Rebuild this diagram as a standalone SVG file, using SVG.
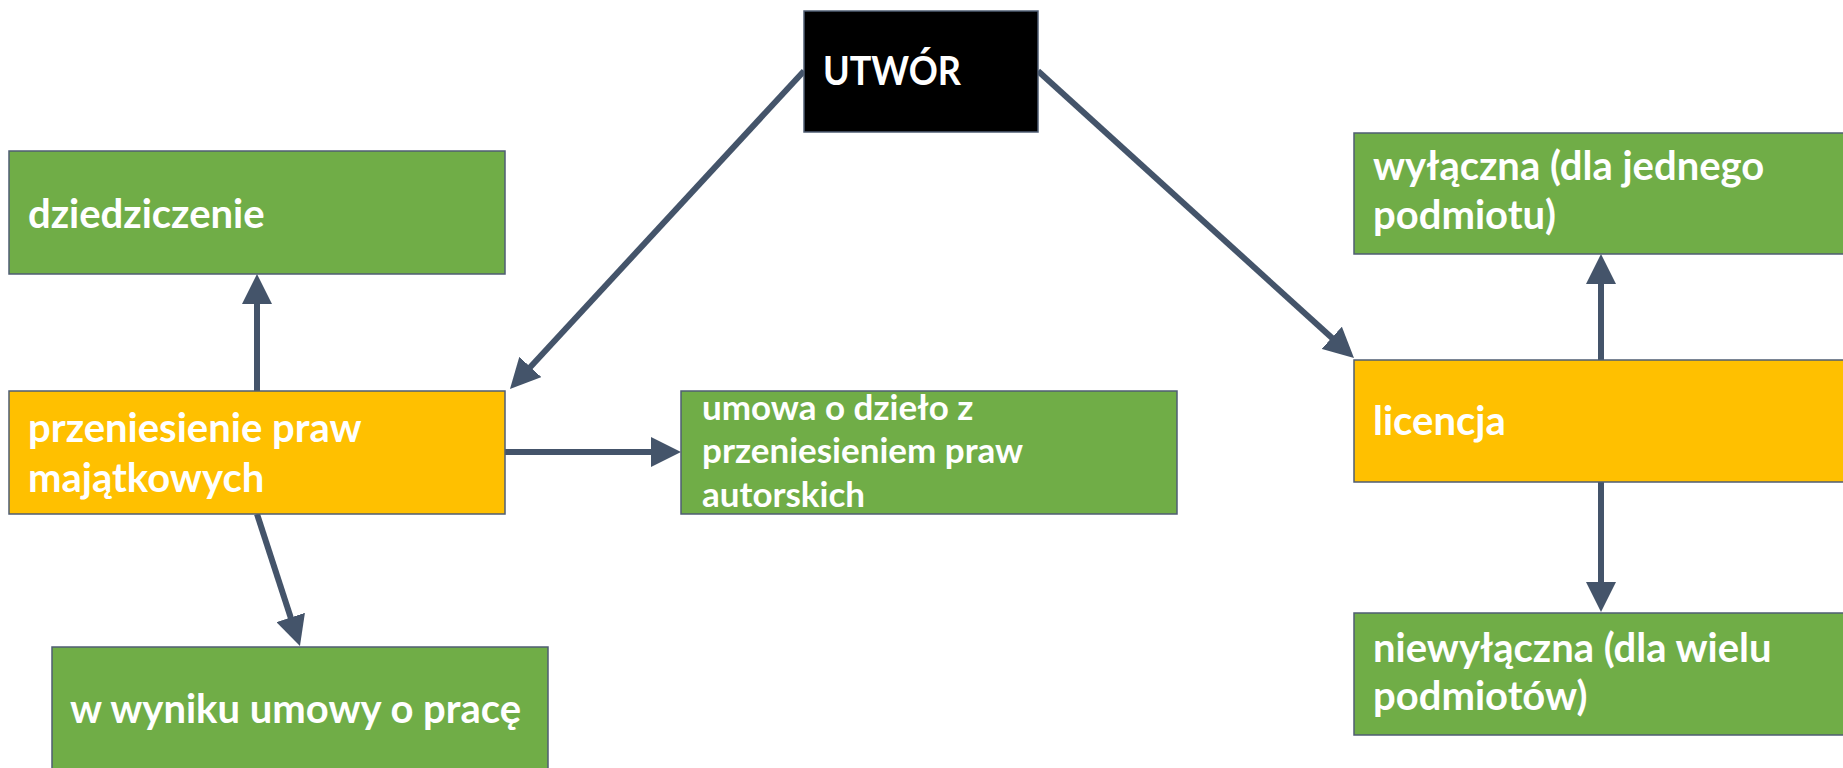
<svg xmlns="http://www.w3.org/2000/svg" width="1843" height="768" viewBox="0 0 1843 768">
<style>
.box{stroke:#4F5D73;stroke-width:1.5}
.g{fill:#70AD47}
.y{fill:#FFC000}
.k{fill:#000000}
.t{font-family:Lato,"Liberation Sans",sans-serif;font-weight:bold;font-size:40px;fill:#FFFFFF}
.s{font-size:35px}
.c{fill:none;stroke:#44546A;stroke-width:6}
</style>
<defs>
<marker id="ah" viewBox="0 0 10 10" refX="1" refY="5" markerWidth="5" markerHeight="5" orient="auto" markerUnits="strokeWidth">
<path d="M0,0 L10,5 L0,10 z" fill="#44546A"/>
</marker>
</defs>
<rect width="1843" height="768" fill="#FFFFFF"/>
<g id="connectors">
<line class="c" x1="804" y1="71" x2="528.3" y2="369.2" marker-end="url(#ah)"/>
<line class="c" x1="1038" y1="71" x2="1334" y2="339.8" marker-end="url(#ah)"/>
<line class="c" x1="257" y1="391" x2="257" y2="301" marker-end="url(#ah)"/>
<line class="c" x1="505" y1="452" x2="654" y2="452" marker-end="url(#ah)"/>
<line class="c" x1="257" y1="514" x2="291.6" y2="620.3" marker-end="url(#ah)"/>
<line class="c" x1="1601" y1="360" x2="1601" y2="281" marker-end="url(#ah)"/>
<line class="c" x1="1601" y1="482" x2="1601" y2="585" marker-end="url(#ah)"/>
</g>
<g id="utwor">
<rect class="box k" x="804" y="11" width="234" height="121"/>
<text class="t" x="823" y="85" textLength="138" lengthAdjust="spacingAndGlyphs">UTWÓR</text>
</g>
<g id="dziedziczenie">
<rect class="box g" x="9" y="151" width="496" height="123"/>
<text class="t" x="28" y="228">dziedziczenie</text>
</g>
<g id="przeniesienie">
<rect class="box y" x="9" y="391" width="496" height="123"/>
<text class="t" x="28" y="442">przeniesienie praw</text>
<text class="t" x="28" y="492">majątkowych</text>
</g>
<g id="umowa">
<rect class="box g" x="681" y="391" width="496" height="123"/>
<text class="t s" x="702" y="420">umowa o dzieło z</text>
<text class="t s" x="702" y="463">przeniesieniem praw</text>
<text class="t s" x="702" y="507">autorskich</text>
</g>
<g id="wyniku">
<rect class="box g" x="52" y="647" width="496" height="125"/>
<text class="t" x="70" y="723">w wyniku umowy o pracę</text>
</g>
<g id="wylaczna">
<rect class="box g" x="1354" y="133" width="496" height="121"/>
<text class="t" x="1373" y="180">wyłączna (dla jednego</text>
<text class="t" x="1373" y="229">podmiotu)</text>
</g>
<g id="licencja">
<rect class="box y" x="1354" y="360" width="496" height="122"/>
<text class="t" x="1373" y="435">licencja</text>
</g>
<g id="niewylaczna">
<rect class="box g" x="1354" y="613" width="496" height="122"/>
<text class="t" x="1373" y="662">niewyłączna (dla wielu</text>
<text class="t" x="1373" y="710">podmiotów)</text>
</g>
</svg>
